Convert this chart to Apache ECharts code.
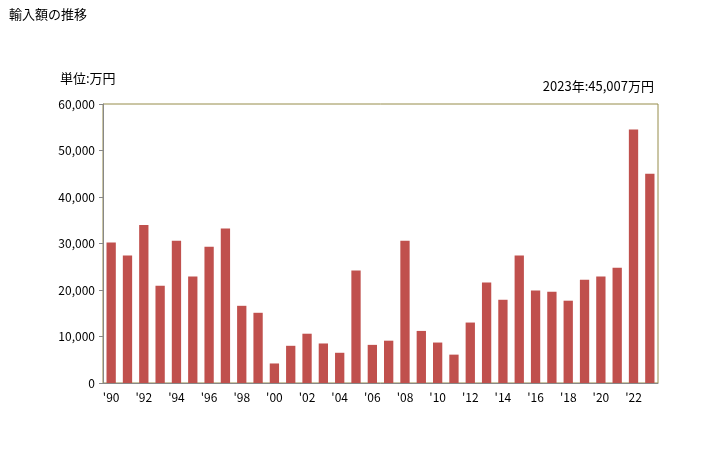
<!DOCTYPE html>
<html>
<head>
<meta charset="utf-8">
<script src="https://cdn.jsdelivr.net/npm/echarts@6/dist/echarts.min.js"></script>
<style>
  html, body { margin: 0; padding: 0; background: #fff; }
  #chart { width: 728px; height: 450px; }
</style>
</head>
<body>
<div id="chart"></div>
<script>
// 1990〜2023年 輸入額(万円)
const years = [
  1990, 1991, 1992, 1993, 1994, 1995, 1996, 1997, 1998, 1999,
  2000, 2001, 2002, 2003, 2004, 2005, 2006, 2007, 2008, 2009,
  2010, 2011, 2012, 2013, 2014, 2015, 2016, 2017, 2018, 2019,
  2020, 2021, 2022, 2023
]
const values = [
  30200, 27400, 34000, 20900, 30600, 22900, 29300, 33200, 16600, 15100,
  4200, 8000, 10600, 8500, 6500, 24200, 8200, 9100, 30600, 11200,
  8700, 6100, 13000, 21600, 17900, 27400, 19900, 19600, 17700, 22200,
  22900, 24800, 54500, 45007
]
const yTicks = [0, 10000, 20000, 30000, 40000, 50000, 60000]

const categories = years.map(y => "'" + String(y).slice(2))
const font = '"Noto Sans CJK JP", "Noto Sans", sans-serif'

const chart = echarts.init(document.getElementById('chart'), null, { renderer: 'canvas' })

chart.setOption({
  backgroundColor: '#fff',
  animation: false,
  title: [
    {
      text: '輸入額の推移',
      left: 4, top: 3,
      textStyle: { fontSize: 13, fontWeight: 'normal', color: '#000', fontFamily: font },
    },
    {
      text: '単位:万円',
      left: 55, top: 67,
      textStyle: { fontSize: 13, fontWeight: 'normal', color: '#000', fontFamily: font },
    },
    {
      text: '2023年:45,007万円',
      right: 69, top: 75,
      textStyle: { fontSize: 13, fontWeight: 'normal', color: '#000', fontFamily: font },
    },
  ],
  grid: {
    left: 103, right: 70, top: 104, bottom: 67,
    show: true,
    borderColor: '#968c4a',
    borderWidth: 1,
  },
  xAxis: {
    type: 'category',
    data: categories,
    axisLine: { lineStyle: { color: '#888' } },
    axisTick: { show: false },
    axisLabel: {
      interval: 1,
      color: '#000',
      fontSize: 12,
      fontFamily: font,
      margin: 8,
    },
    splitLine: { show: false },
  },
  yAxis: {
    type: 'value',
    min: yTicks[0],
    max: yTicks[yTicks.length - 1],
    interval: 10000,
    axisLine: { show: true, lineStyle: { color: '#888' } },
    axisTick: { show: true, length: 4, lineStyle: { color: '#888' } },
    axisLabel: {
      color: '#000',
      fontSize: 12,
      fontFamily: font,
      margin: 8,
      formatter: v => v.toLocaleString('en-US'),
    },
    splitLine: { show: false },
  },
  series: [
    {
      type: 'bar',
      data: values,
      barWidth: '57%',
      itemStyle: { color: '#c0504d' },
    },
  ],
})
</script>
</body>
</html>
